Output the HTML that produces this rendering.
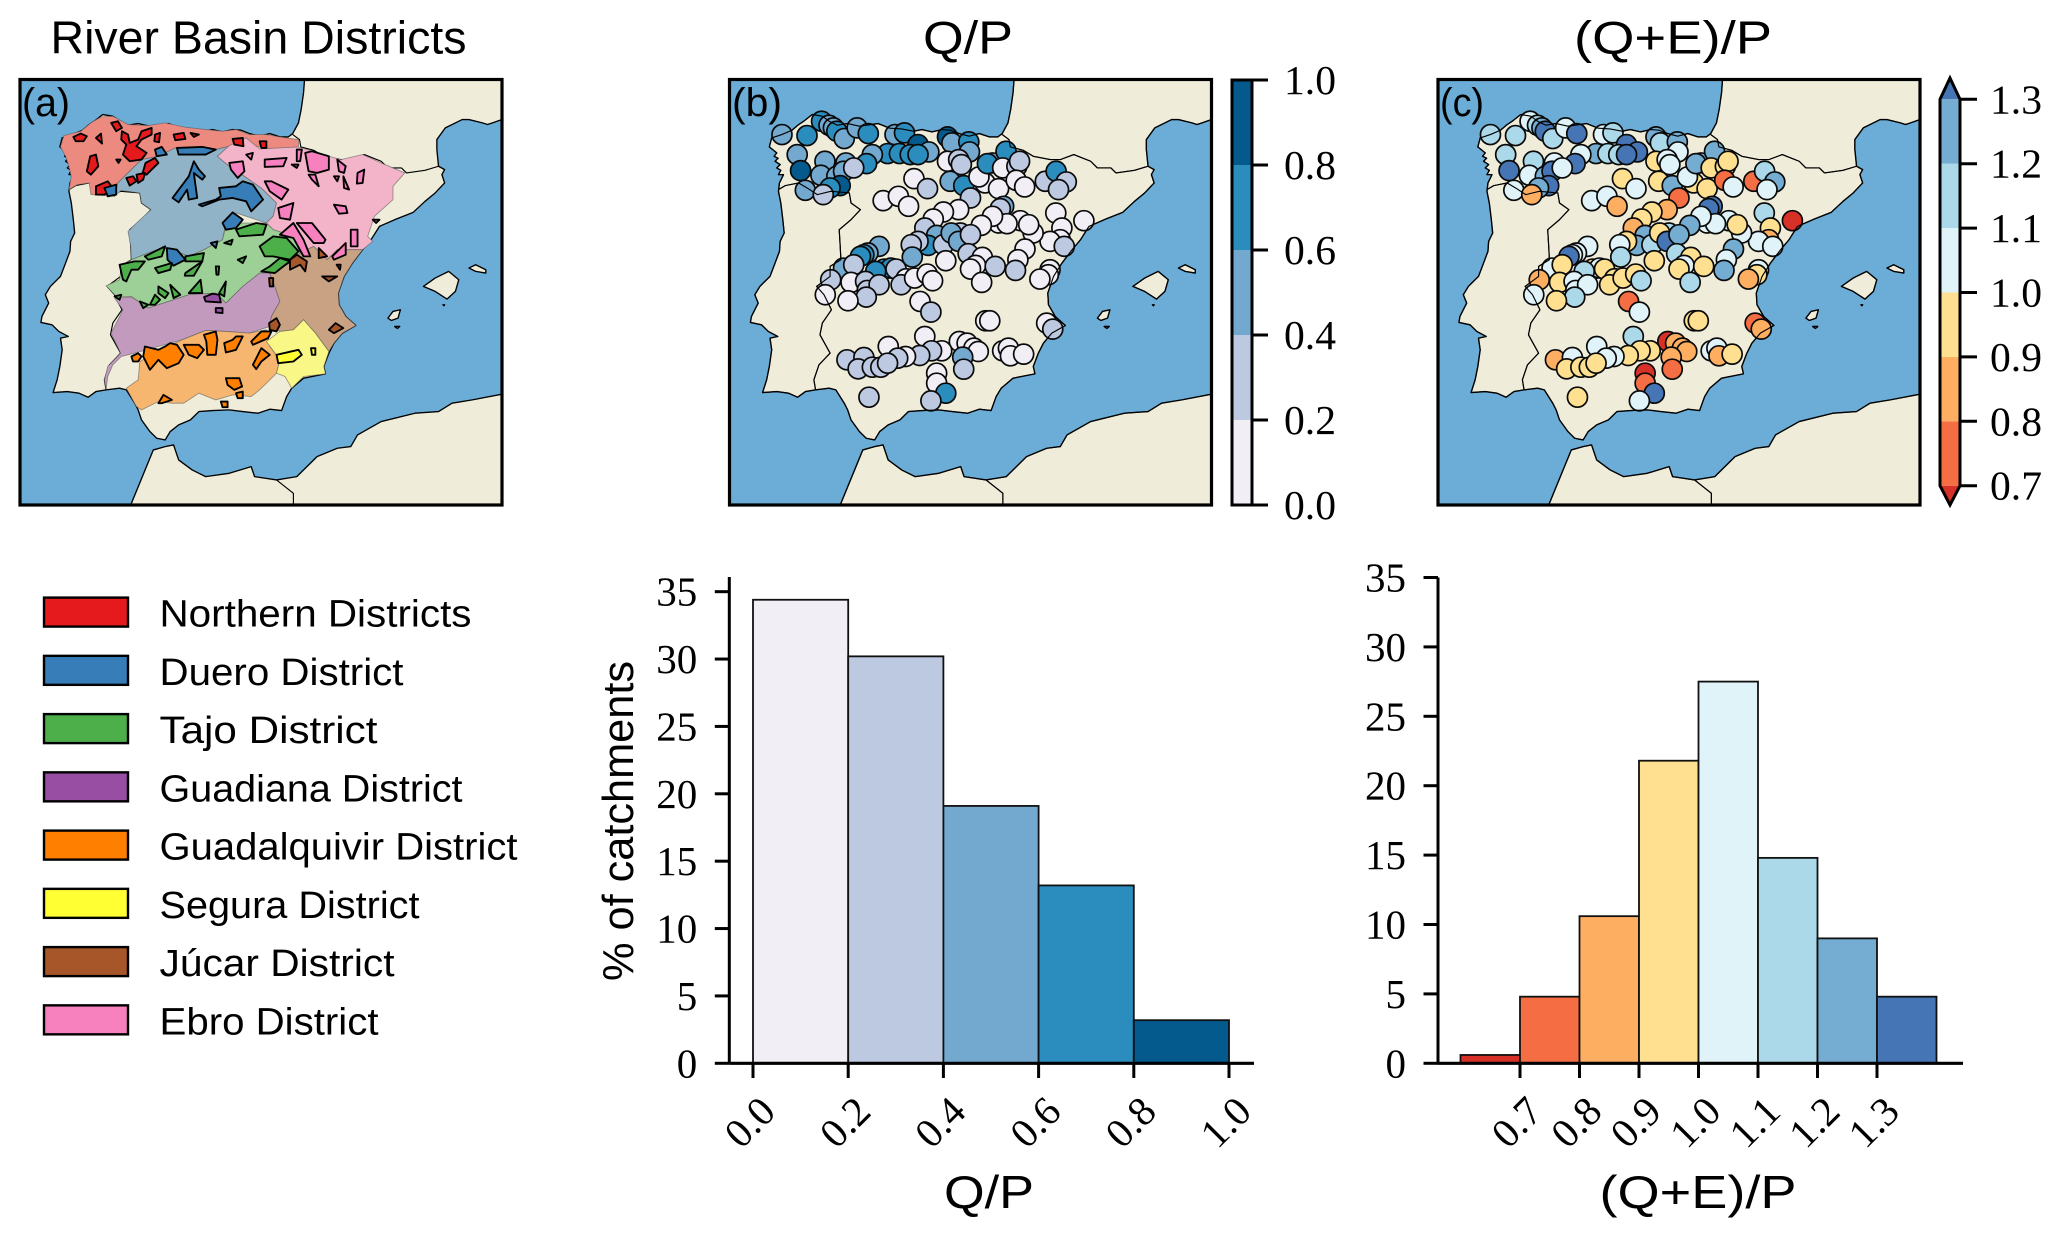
<!DOCTYPE html>
<html lang="en">
<head>
<meta charset="utf-8">
<title>River basin districts, Q/P and (Q+E)/P across Iberia</title>
<style>
html,body{margin:0;padding:0;background:#fff;width:2061px;height:1239px;overflow:hidden}
svg{display:block}
.sans{font-family:"Liberation Sans",sans-serif;fill:#000}
.serif{font-family:"Liberation Serif",serif;fill:#000}
</style>
</head>
<body>
<svg id="figure" xmlns="http://www.w3.org/2000/svg" width="2061" height="1239" viewBox="0 0 2061 1239">
<defs>
<g id="iberia-land">
  <path d="M903,60 L900,100 L893,150 L885,190 L868,222 L855,232 L830,232 L800,222 L770,230 L740,222 L715,212 L690,210 L660,217 L630,210 L605,215 L570,208 L535,206 L500,192 L480,195 L445,200 L410,192 L380,197 L355,185 L335,170 L305,165 L280,185 L265,195 L245,212 L215,225 L185,235 L178,262 L200,280 L192,290 L204,296 L195,305 L210,315 L200,325 L212,332 L205,345 L220,345 L208,370 L205,395 L212,430 L218,480 L222,520 L210,545 L208,575 L195,610 L180,650 L150,680 L135,705 L145,730 L125,770 L122,788 L155,795 L175,815 L203,830 L180,835 L185,870 L178,920 L170,960 L158,998 L200,995 L235,1000 L262,1012 L285,995 L315,990 L355,985 L375,990 L400,1030 L410,1050 L420,1080 L445,1115 L465,1135 L490,1140 L505,1115 L530,1095 L565,1080 L590,1055 L630,1052 L680,1050 L720,1055 L765,1060 L800,1048 L835,1052 L850,1010 L865,985 L900,955 L965,942 L960,920 L975,880 L990,850 L1015,820 L1055,797 L1025,770 L1005,735 L1003,700 L1020,650 L1045,610 L1075,570 L1100,540 L1125,500 L1175,478 L1225,458 L1260,425 L1290,400 L1318,370 L1310,345 L1318,330 L1300,320 L1295,270 L1295,240 L1320,205 L1370,180 L1390,180 L1430,190 L1445,195 L1460,190 L1488,180 L1488,60 Z"/>
  <path d="M388,1335 L455,1170 L490,1160 L515,1155 L530,1200 L570,1230 L610,1250 L680,1240 L745,1220 L755,1250 L820,1260 L880,1250 L940,1190 L1000,1165 L1040,1160 L1060,1125 L1130,1085 L1230,1060 L1300,1055 L1340,1030 L1400,1020 L1488,1003 L1488,1335 Z"/>
  <path d="M1255,680 L1290,655 L1330,635 L1360,660 L1350,695 L1325,718 L1290,695 Z"/>
  <path d="M1390,625 L1410,615 L1440,630 L1440,640 L1410,635 Z"/>
  <path d="M1150,775 L1165,755 L1187,750 L1180,775 L1160,782 Z"/>
  <path d="M1170,800 L1185,800 L1178,806 Z"/>
  <path d="M1313,735 L1318,735 L1316,738 Z"/>
</g>
<g id="iberia-borders">
  <path d="M868,225 L888,240 L892,262 L930,272 L960,290 L1010,300 L1040,300 L1080,285 L1130,305 L1150,325 L1190,325 L1205,340 L1260,332 L1300,320"/>
  <path d="M205,390 L225,378 L265,370 L290,385 L320,405 L360,395 L415,400 L420,430 L448,450 L420,480 L385,510 L388,560 L390,600 L358,620 L358,650 L318,680 L340,705 L362,750 L335,790 L328,825 L358,880 L325,915 L310,960 L315,990"/>
  <path d="M820,1260 L870,1300 L870,1335"/>
</g>
</defs>

<text class="sans" x="50.5" y="53.5" font-size="46" textLength="416" lengthAdjust="spacingAndGlyphs">River Basin Districts</text>
<text class="sans" x="968" y="53.5" font-size="46" text-anchor="middle" textLength="90" lengthAdjust="spacingAndGlyphs">Q/P</text>
<text class="sans" x="1673" y="53.5" font-size="46" text-anchor="middle" textLength="198" lengthAdjust="spacingAndGlyphs">(Q+E)/P</text>

<g id="panel-a"></g>
<g id="panel-b"></g>
<g id="panel-c"></g>
<g id="legend"></g>
<g id="hist-b"></g>
<g id="hist-c"></g>
</svg>

<script>
// ---------- Gauged catchments: map position (approx. km east / north of the map's lower-left corner) and ratios
const gaugeEast = [155,229,272,294,307,317,339,377,410,489,517,557,644,657,707,709,589,467,502,534,557,422,405,200,282,344,210,270,317,337,367,327,297,224,277,
545,585,454,499,529,644,677,685,652,692,712,755,737,795,777,762,817,807,849,857,847,872,933,965,995,972,
964,1047,982,977,947,989,897,859,884,810,800,795,820,777,744,677,632,602,577,612,587,557,537,540,632,682,655,677,712,639,705,747,727,712,785,745,873,852,845,947,942,917,
442,409,397,387,337,367,457,477,492,432,299,359,402,407,442,404,350,283,522,507,547,584,600,563,595,757,769,937,955,
577,679,702,722,735,689,692,627,597,562,469,520,497,347,397,380,422,447,467,807,824,830,869,612,612,639,595,412];
const gaugeNorth = [1110,1107,1150,1138,1130,1120,1098,1130,1113,1110,1115,1080,1103,1085,1088,1058,1058,1053,1053,1050,1050,1050,1023,1050,1030,1025,1002,988,985,1000,1010,957,950,943,930,
978,948,912,925,895,1030,1035,1020,970,957,920,965,983,948,1025,1023,1060,1010,1015,1030,973,953,970,1000,968,945,
875,852,830,795,790,775,815,852,840,895,888,845,843,865,838,885,878,857,830,808,778,790,780,743,780,815,815,790,810,732,753,742,718,707,715,667,767,735,703,705,690,677,
775,755,750,745,710,720,707,710,707,700,675,667,670,643,660,623,612,630,678,660,680,692,672,610,578,552,552,545,527,
505,490,485,470,460,443,407,462,462,448,475,445,440,435,442,408,413,413,425,462,470,447,452,395,365,335,312,323];
const runoffRatio = [.45,.65,.65,.45,.55,.65,.45,.45,.65,.45,.65,.85,.85,.45,.65,.45,.45,.65,.65,.65,.65,.45,.65,.45,.45,.45,.85,.45,.45,.45,.3,.85,.7,.45,.3,
.1,.3,.1,.1,.1,.1,.3,.3,.45,.65,.3,.1,.1,.1,.45,.65,.65,.1,.3,.3,.1,.1,.3,.65,.3,.3,
.1,.1,.1,.1,.1,.3,.1,.1,.1,.45,.3,.1,.1,.1,.1,.1,.1,.1,.3,.45,.65,.3,.3,.45,.3,.3,.45,.45,.3,.1,.3,.1,.1,.1,.3,.1,.1,.1,.3,.1,.1,.1,
.45,.55,.65,.65,.45,.3,.65,.65,.3,.65,.3,.1,.3,.3,.3,.3,.1,.1,.1,.3,.1,.1,.1,.1,.3,.1,.1,.1,.3,
.1,.1,.1,.1,.1,.45,.3,.1,.3,.3,.1,.1,.3,.3,.3,.3,.3,.3,.3,.1,.1,.1,.1,.1,.1,.65,.3,.3];
const balanceRatio = [1.15,1.15,1.05,1.15,1.25,1.35,1.15,1.05,1.35,1.05,1.15,1.35,1.25,1.15,1.25,1.05,1.35,1.25,1.15,1.15,1.35,1.05,1.35,1.15,1.15,1.05,1.35,1.05,1.25,1.35,1.05,1.35,1.25,1.05,.85,
.95,1.05,1.05,1.05,.85,.95,1.05,1.05,.95,1.25,.75,.95,1.05,.95,1.25,1.25,1.25,.95,.95,.95,.75,1.05,.75,1.15,1.25,1.05,
1.15,.65,.95,.85,1.05,1.05,1.05,1.05,.95,1.35,1.35,1.05,1.05,1.05,1.25,.85,.95,.95,.85,1.25,1.25,.95,1.05,1.15,1.15,1.15,.95,1.35,1.25,.95,1.15,.95,1.05,.95,.95,1.15,1.25,1.05,1.25,1.05,.95,.85,
1.05,1.05,1.05,1.35,1.05,.95,.95,1.05,.95,1.15,.85,.95,1.05,1.05,1.05,1.15,.95,1.05,.95,.95,.95,.95,1.15,.75,1.05,.95,.95,.75,.85,
1.15,.65,.85,.85,.85,.85,.75,.95,.95,.95,1.05,1.05,1.05,.85,1.05,.95,.95,.95,.95,1.05,1.05,.85,.95,.65,.75,1.35,1.05,.95];

// ---------- Histogram data (% of catchments)
const runoffBinEdges = [0,0.2,0.4,0.6,0.8,1.0];
const runoffShares = [34.4,30.2,19.1,13.2,3.2];
const balanceBinEdges = [0.6,0.7,0.8,0.9,1.0,1.1,1.2,1.3,1.4];
const balanceShares = [0.6,4.8,10.6,21.8,27.5,14.8,9.0,4.8];
const countTicks = [0,5,10,15,20,25,30,35];
const runoffTickLabels = ["0.0","0.2","0.4","0.6","0.8","1.0"];
const balanceTickLabels = ["0.7","0.8","0.9","1.0","1.1","1.2","1.3"];

// ---------- Colour classes
const runoffColors = ["#f1eef6","#bdc9e1","#74a9cf","#2b8cbe","#045a8d"];
const balanceColors = ["#d73027","#f46d43","#fdae61","#fee090","#e0f3f8","#abd9e9","#74add1","#4575b4"];

// ---------- Legend
const districtNames = ["Northern Districts","Duero District","Tajo District","Guadiana District","Guadalquivir District","Segura District","Júcar District","Ebro District"];
const districtColors = ["#e41a1c","#377eb8","#4daf4a","#984ea3","#ff7f00","#ffff33","#a65628","#f781bf"];
const legendTextWidths = [312,244,218,303,358,260,235,219];

// ---------- District outlines on the base map (map sketch coordinates)
const districtAreas = [
 {fill:"#ec8a80",pts:"205,390 212,350 205,320 195,290 180,262 190,228 240,215 270,190 300,172 335,170 380,195 440,198 490,190 550,203 610,210 660,215 700,210 740,225 790,225 830,232 885,240 885,265 840,270 780,265 745,255 730,270 680,260 640,270 580,265 520,265 470,290 420,300 380,340 350,370 340,410 270,405 265,370 230,375"},
 {fill:"#91b3c8",pts:"340,410 360,392 415,400 420,430 448,450 405,490 380,515 388,560 390,600 440,580 480,565 510,570 560,590 605,570 660,540 670,490 700,460 790,490 810,470 820,430 775,385 725,350 680,320 645,290 680,260 640,270 580,265 520,265 470,290 420,300 380,340 350,370"},
 {fill:"#f3b4ca",pts:"645,290 680,258 730,235 770,268 885,262 960,285 1010,300 1075,285 1130,310 1200,340 1165,380 1165,420 1110,470 1090,530 1105,545 1075,570 1000,570 970,600 930,560 890,580 870,530 810,510 790,490 810,470 820,430 775,385 725,350 680,320"},
 {fill:"#9dd096",pts:"315,678 355,660 360,620 390,600 440,580 480,565 510,570 560,590 605,570 660,540 670,500 700,490 790,490 810,510 870,530 890,580 860,610 810,640 770,640 720,680 670,730 640,700 560,705 500,725 440,745 390,710 345,710"},
 {fill:"#c19abd",pts:"340,715 390,712 440,745 500,725 560,705 640,700 670,730 720,680 770,640 800,640 815,680 830,725 805,770 800,800 740,820 670,815 610,812 540,840 470,860 400,880 360,890 335,915 320,950 315,988 310,960 320,920 358,880 330,820 365,750"},
 {fill:"#c8a283",pts:"800,640 860,610 890,580 930,560 970,600 1000,570 1075,570 1045,610 1020,650 1003,700 1005,735 1025,770 1055,797 1015,820 990,850 975,875 935,820 900,780 870,810 830,815 800,790 805,770 830,725 815,680"},
 {fill:"#f7b66f",pts:"375,985 410,960 415,905 460,880 540,840 610,812 670,815 740,820 790,810 800,860 830,900 820,940 770,990 745,1010 690,1005 640,1020 590,1000 545,1030 510,1030 470,1025 420,1050 405,1040"},
 {fill:"#f9f785",pts:"790,845 830,815 870,810 900,780 935,820 975,875 960,920 965,942 900,950 865,985 845,950 820,940 830,900"}
];
const subBasinShapes = [
 {fill:"#e41a1c",list:["218,232 240,222 258,230 248,245 225,245","285,235 300,222 303,252","330,190 350,185 362,205 345,215","362,215 380,225 385,250 410,240 420,215 450,205 450,225 420,240 405,260 435,280 420,300 385,305 365,285 375,255 360,240","460,225 475,220 472,248 458,245","515,225 545,220 550,238 520,242","268,290 285,285 292,320 270,345 258,335","345,300 358,300 352,310","432,310 460,295 470,310 435,345 422,345","375,355 395,350 405,365 385,378","405,345 430,340 425,360 410,370","285,380 320,365 335,385 310,405 285,405","690,238 720,235 722,260 695,255","770,245 790,245 790,265 775,265","565,220 590,225 575,232"]},
 {fill:"#377eb8",list:["460,270 480,262 495,285 465,290","525,265 600,262 640,270 610,285 530,285","575,305 590,330 608,350 600,360 575,340 585,415 560,420 555,390 530,428 512,415 560,350","650,385 700,380 720,365 750,375 780,420 745,455 730,425 690,415 650,420 600,440 590,435 640,420 655,410","660,490 690,458 720,480 700,505 670,510","495,565 525,570 550,600 515,618 497,600","310,385 345,375 345,405 320,410","625,550 645,545 640,565"]},
 {fill:"#4daf4a",list:["700,510 760,490 790,495 780,525 710,530","770,560 810,530 850,535 885,575 860,600 810,590 785,590","355,615 400,605 430,605 410,630 390,630 375,665 365,660","430,590 490,560 480,590 440,600","460,625 510,610 505,630 470,640","550,590 605,580 600,605 550,605","550,640 600,605 575,648 548,648","705,600 730,590 720,610","640,620 650,620 648,645 642,645","560,700 595,660 600,700","650,700 670,665 665,710","445,735 460,705 475,720 460,735","470,680 500,700 490,715 470,700","505,675 535,705 515,715","415,725 440,735 425,745","800,620 830,595 860,605 840,620 815,640 775,635","340,710 360,705 355,720","665,550 690,540 685,555"]},
 {fill:"#984ea3",list:["605,712 630,702 650,705 655,728 610,725","640,745 660,745 660,760 640,758"]},
 {fill:"#ff7f00",list:["390,890 410,880 420,890 410,905 395,905","430,860 470,870 490,860 505,850 525,855 545,885 530,910 495,925 470,900 445,930 425,890","545,855 590,855 605,870 585,895 560,885","605,825 640,815 645,840 640,885 615,885 612,845","665,850 690,840 700,830 720,830 700,870 670,878","745,845 775,815 805,815 795,835 750,855","750,915 775,865 800,885 775,905 760,928","670,955 710,955 718,980 695,990 675,975","700,1000 720,995 720,1015 705,1015","655,1025 675,1025 675,1042 660,1042","470,1030 485,1005 510,1020 480,1030"]},
 {fill:"#ffff33",list:["820,885 885,870 895,885 870,905 825,910","922,865 935,865 935,885 925,885"]},
 {fill:"#a65628",list:["860,600 880,585 910,605 905,635 890,615 860,630","945,565 970,590 945,595","955,650 1000,650 975,665","998,615 1010,615 1008,630","798,655 810,655 810,680 800,680","798,790 820,775 830,795 820,815 800,810","975,810 995,790 1018,805 990,820"]},
 {fill:"#f781bf",list:["680,310 720,305 725,335 705,355 685,330","730,285 750,280 745,300","785,300 850,295 840,320 785,322","905,280 925,275 975,290 975,330 940,340 915,335","880,270 895,270 890,305 880,305","865,315 885,315 880,325","1000,300 1025,320 1020,340 1005,335","1018,350 1035,390 1020,385","1060,340 1080,330 1075,370 1058,372","915,345 935,345 945,380 925,360","990,350 1005,350 1000,365","785,365 805,365 855,390 835,420 800,395","990,435 1025,440 1030,460 1005,462","830,525 870,490 900,540 920,590 900,590 870,535","880,490 925,490 965,540 960,550 930,550","985,590 1025,550 1025,585 990,600","1040,510 1060,510 1060,560 1040,560","825,445 870,430 860,480 830,475","1105,480 1125,480 1115,490"]}
];

// ---------- Layout constants
const SVGNS = "http://www.w3.org/2000/svg";
const MAP_TOP = 79.5, MAP_BOTTOM = 505, MAP_W = 482, MAP_H = 425.5;
const MAP_EXTENT_X = 1424, MAP_EXTENT_Y = 1275;
const HIST_BOTTOM = 1063.3;

function make(parent, tag, attrs, text) {
  const el = document.createElementNS(SVGNS, tag);
  for (const k in attrs) el.setAttribute(k, attrs[k]);
  if (text !== undefined) el.textContent = text;
  parent.appendChild(el);
  return el;
}
function runoffColor(v) {
  const i = Math.min(runoffColors.length - 1, Math.max(0, Math.floor(v / 0.2)));
  return runoffColors[i];
}
function balanceColor(v) {
  const i = Math.min(balanceColors.length - 1, Math.max(0, Math.floor((v - 0.6) / 0.1 + 1e-9)));
  return balanceColors[i];
}
function mapTransform(left) {
  return `translate(${left},${MAP_TOP}) scale(${MAP_W / 1428},${MAP_H / 1275}) translate(-60,-60)`;
}
function baseMap(group, left) {
  const wrap = make(group, "g", {transform: mapTransform(left)});
  
  
  const sea = make(wrap, "rect", {x: 60, y: 60, width: 1428, height: 1275, fill: "#6badd7"});
  
  
  const land = make(wrap, "use", {href: "#iberia-land", fill: "#efedda", stroke: "#000", "stroke-width": 4, "stroke-linejoin": "round"});
  
  
  const borders = make(wrap, "use", {href: "#iberia-borders", fill: "none", stroke: "#000", "stroke-width": 3.4, "stroke-linejoin": "round"});
  
  
  return wrap;
}
function lineOverlay(group, left) {
  const wrap = make(group, "g", {transform: mapTransform(left), fill: "none", stroke: "#000", "stroke-width": 3.4, "stroke-linejoin": "round"});
  
  
  make(wrap, "use", {href: "#iberia-land"});
  make(wrap, "use", {href: "#iberia-borders"});
}
function frame(group, left) {
  const r = make(group, "rect", {x: left, y: MAP_TOP, width: MAP_W, height: MAP_H, fill: "none", stroke: "#000", "stroke-width": 3.2});
  
  
}
function panelLabel(group, x, width, str) {
  const t = make(group, "text", {class: "sans", x: x, y: 116, "font-size": 40, textLength: width, lengthAdjust: "spacingAndGlyphs"}, str);
  
  
}
function scatter(group, left, values, colorFn) {
  const xMap = e => left + e * MAP_W / MAP_EXTENT_X;
  const yMap = n => MAP_BOTTOM - n * MAP_H / MAP_EXTENT_Y;
  gaugeEast.forEach((e, i) => {
    const c = make(group, "circle", {cx: xMap(e), cy: yMap(gaugeNorth[i]), r: 10, fill: colorFn(values[i]), stroke: "#0a0a0a", "stroke-width": 1.7});
    
    
  });
}

// ---------- Panel (a)
(function () {
  const g = document.getElementById("panel-a");
  const wrap = baseMap(g, 20);
  districtAreas.forEach(d => {
    const p = make(wrap, "polygon", {points: d.pts, fill: d.fill, stroke: "#555", "stroke-width": 2.5, "stroke-opacity": .6});
    
    
  });
  subBasinShapes.forEach(s => s.list.forEach(pts => {
    const p = make(wrap, "polygon", {points: pts, fill: s.fill, stroke: "#000", "stroke-width": 5.5, "stroke-linejoin": "round"});
    
    
  }));
  frame(g, 20);
  panelLabel(g, 22, 48, "(a)");
})();

// ---------- Panel (b)
(function () {
  const g = document.getElementById("panel-b");
  baseMap(g, 729.5);
  scatter(g, 729.5, runoffRatio, runoffColor);
  lineOverlay(g, 729.5);
  frame(g, 729.5);
  panelLabel(g, 732, 50, "(b)");
  // colour bar
  const L = 1232, W = 20, T = 80, B = 505;
  const yScale = v => B - v * (B - T);
  runoffBinEdges.slice(0, -1).forEach((e, i) => {
    const r = make(g, "rect", {x: L, y: yScale(runoffBinEdges[i + 1]), width: W, height: yScale(e) - yScale(runoffBinEdges[i + 1]), fill: runoffColors[i]});
    
    
  });
  const out = make(g, "rect", {x: L, y: T, width: W, height: B - T, fill: "none", stroke: "#000", "stroke-width": 3});
  
  
  runoffTickLabels.forEach((s, i) => {
    const y = yScale(runoffBinEdges[i]);
    const tick = make(g, "line", {x1: L + W, x2: 1268, y1: y, y2: y, stroke: "#000", "stroke-width": 3});
    
    
    const t = make(g, "text", {class: "serif", x: 1284, y: y + 14, "font-size": 41, textLength: 52, lengthAdjust: "spacingAndGlyphs"}, s);
    
    
  });
})();

// ---------- Panel (c)
(function () {
  const g = document.getElementById("panel-c");
  baseMap(g, 1438);
  scatter(g, 1438, balanceRatio, balanceColor);
  lineOverlay(g, 1438);
  frame(g, 1438);
  panelLabel(g, 1440, 44, "(c)");
  // colour bar with extensions
  const L = 1940, R = 1960;
  const yScale = v => 485.7 - (v - 0.7) * (485.7 - 99.3) / 0.6;
  balanceBinEdges.forEach((e, i) => {
    if (i === 0 || i === balanceBinEdges.length - 2 || i === balanceBinEdges.length - 1) return;
    const r = make(g, "rect", {x: L, y: yScale(balanceBinEdges[i + 1]), width: R - L, height: yScale(e) - yScale(balanceBinEdges[i + 1]), fill: balanceColors[i]});
    
    
  });
  const topTip = make(g, "polygon", {points: `${L},${yScale(1.3)} ${(L + R) / 2},78 ${R},${yScale(1.3)}`, fill: balanceColors[7]});
  
  
  const botTip = make(g, "polygon", {points: `${L},${yScale(0.7)} ${(L + R) / 2},505 ${R},${yScale(0.7)}`, fill: balanceColors[0]});
  
  
  const out = make(g, "polygon", {points: `${L},${yScale(1.3)} ${(L + R) / 2},78 ${R},${yScale(1.3)} ${R},${yScale(0.7)} ${(L + R) / 2},505 ${L},${yScale(0.7)}`, fill: "none", stroke: "#000", "stroke-width": 3});
  
  
  balanceTickLabels.forEach(s => {
    const y = yScale(parseFloat(s));
    const tick = make(g, "line", {x1: R, x2: 1977, y1: y, y2: y, stroke: "#000", "stroke-width": 3});
    
    
    const t = make(g, "text", {class: "serif", x: 1990, y: y + 14, "font-size": 41, textLength: 52, lengthAdjust: "spacingAndGlyphs"}, s);
    
    
  });
})();

// ---------- Legend
(function () {
  const g = document.getElementById("legend");
  districtNames.forEach((name, i) => {
    const top = 597.6 + 58.25 * i;
    const r = make(g, "rect", {x: 44, y: top, width: 84, height: 29, fill: districtColors[i], stroke: "#000", "stroke-width": 2.4});
    
    
    const t = make(g, "text", {class: "sans", x: 159.5, y: top + 29, "font-size": 38, textLength: legendTextWidths[i], lengthAdjust: "spacingAndGlyphs"}, name);
    
    
  });
})();

// ---------- Histograms
function drawHistogram(cfg) {
  const g = cfg.group;
  const xScale = cfg.xScale, yScale = cfg.yScale;
  cfg.shares.forEach((v, i) => {
    const x0 = xScale(cfg.edges[i]), x1 = xScale(cfg.edges[i + 1]);
    const r = make(g, "rect", {x: x0, y: yScale(v), width: x1 - x0, height: yScale(0) - yScale(v), fill: cfg.colors[i], stroke: "#111", "stroke-width": 1.8});
    
    
  });
  const ySpine = make(g, "line", {x1: cfg.spineX, x2: cfg.spineX, y1: cfg.top, y2: HIST_BOTTOM, stroke: "#000", "stroke-width": 3});
  
  
  const xSpine = make(g, "line", {x1: cfg.spineX, x2: cfg.xEnd, y1: HIST_BOTTOM, y2: HIST_BOTTOM, stroke: "#000", "stroke-width": 3.2});
  
  
  countTicks.forEach(v => {
    const y = yScale(v);
    const tick = make(g, "line", {x1: cfg.spineX - 14.5, x2: cfg.spineX, y1: y, y2: y, stroke: "#000", "stroke-width": 3});
    
    
    const s = String(v);
    const t = make(g, "text", {class: "serif", x: cfg.spineX - 32, y: y + 14, "font-size": 41, "text-anchor": "end"}, s);
    
    
  });
  cfg.tickLabels.forEach(s => {
    const x = xScale(parseFloat(s));
    const tick = make(g, "line", {x1: x, x2: x, y1: HIST_BOTTOM, y2: 1078, stroke: "#000", "stroke-width": 3});
    
    
    const cx = x - 3.5, cy = 1122;
    const t = make(g, "text", {class: "serif", x: cx, y: cy + 14, "font-size": 41, "text-anchor": "middle", transform: `rotate(-45 ${cx} ${cy})`}, s);
    
    
  });
  const xl = make(g, "text", {class: "sans", x: cfg.labelX, y: 1208, "font-size": 46, "text-anchor": "middle", textLength: cfg.labelW, lengthAdjust: "spacingAndGlyphs"}, cfg.label);
  
  
}
drawHistogram({
  group: document.getElementById("hist-b"),
  edges: runoffBinEdges, shares: runoffShares, colors: runoffColors, tickLabels: runoffTickLabels,
  xScale: v => 753 + v * 476, yScale: v => HIST_BOTTOM - v * 13.475,
  spineX: 729.3, xEnd: 1254, top: 577, label: "Q/P", labelX: 989, labelW: 90
});
drawHistogram({
  group: document.getElementById("hist-c"),
  edges: balanceBinEdges, shares: balanceShares, colors: balanceColors, tickLabels: balanceTickLabels,
  xScale: v => 1520 + (v - 0.7) * 595, yScale: v => HIST_BOTTOM - v * 13.88,
  spineX: 1438, xEnd: 1963, top: 577.5, label: "(Q+E)/P", labelX: 1698, labelW: 197
});
(function () {
  const g = document.getElementById("hist-b");
  const t = make(g, "text", {class: "sans", x: 0, y: 0, "font-size": 44, "text-anchor": "middle", textLength: 320, lengthAdjust: "spacingAndGlyphs", transform: "translate(633,821) rotate(-90)"}, "% of catchments");
  
  
})();
</script>
</body>
</html>
